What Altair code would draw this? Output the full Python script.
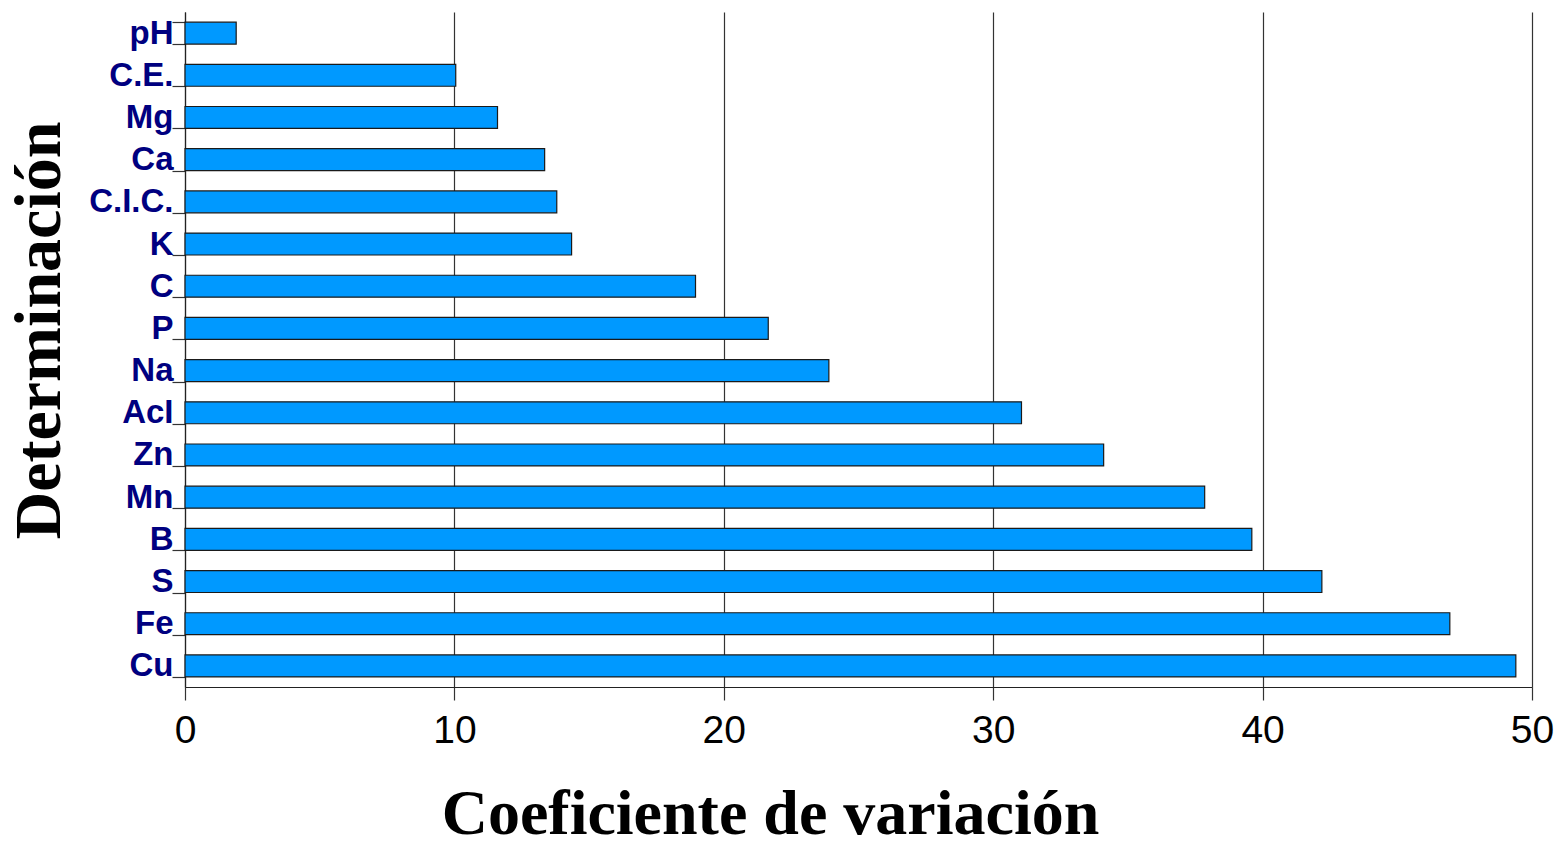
import altair as alt
import pandas as pd

categories = ["pH", "C.E.", "Mg", "Ca", "C.I.C.", "K", "C", "P", "Na", "AcI",
              "Zn", "Mn", "B", "S", "Fe", "Cu"]
values = [1.9, 10.05, 11.6, 13.35, 13.8, 14.35, 18.95, 21.65, 23.9, 31.05,
          34.1, 37.85, 39.6, 42.2, 46.95, 49.4]
x_ticks = [0, 10, 20, 30, 40, 50]

df = pd.DataFrame({"cat": categories, "val": values})

W, H = 1347, 675

bars = alt.Chart(df).mark_bar(
    color="#0099FF", stroke="#1a1a1a", strokeWidth=1.2
).encode(
    x=alt.X("val:Q",
            scale=alt.Scale(domain=[0, 50], nice=False, zero=True),
            axis=alt.Axis(
                values=x_ticks, title="Coeficiente de variación",
                titleFont="Liberation Serif", titleFontSize=64, titleFontWeight="bold",
                titleColor="black", titleX=585, titleY=146, titleAlign="center",
                titleBaseline="alphabetic", titleAnchor="start",
                labelFont="Liberation Sans", labelFontSize=39, labelColor="black",
                labelPadding=11, tickSize=13, tickColor="#333", tickWidth=1.2,
                domainColor="#222", domainWidth=1.2,
                grid=True, gridColor="#333", gridWidth=1.2,
                labelFlush=False, labelOverlap=False)),
    y=alt.Y("cat:N", sort=categories,
            scale=alt.Scale(paddingInner=0.48, paddingOuter=0.24),
            axis=alt.Axis(
                title="Determinación",
                titleFont="Liberation Serif", titleFontSize=66, titleFontWeight="bold",
                titleColor="black", titleAngle=-90, titleX=-146, titleY=318,
                titleAlign="center", titleBaseline="middle",
                labelFont="Liberation Sans", labelFontSize=33, labelFontWeight="bold",
                labelColor="#000080", labelPadding=-1,
                tickSize=13, tickColor="#333", tickWidth=1.2, tickBand="extent",
                domainColor="#222", domainWidth=1.2, grid=False)),
).properties(width=W, height=H)

chart = bars.properties(
    autosize=alt.AutoSizeParams(type="none"),
    padding={"left": 185, "top": 12, "right": 26, "bottom": 161},
    background="white",
).configure_view(stroke=None)

chart.save("out.html", embed_options={"renderer": "svg", "actions": False})
